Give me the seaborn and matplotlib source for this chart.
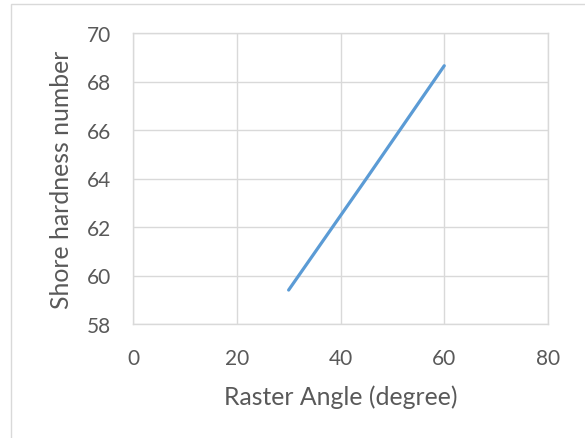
import matplotlib
matplotlib.use('Agg')
import matplotlib.pyplot as plt
import seaborn as sns
import pandas as pd

raster_angle = [30, 45, 60]
shore_hardness = [59.4, 64.0, 68.65]

df = pd.DataFrame({'angle': raster_angle, 'hardness': shore_hardness})

sns.set_style('white')
plt.rcParams['font.family'] = ['Lato', 'DejaVu Sans']

fig = plt.figure(figsize=(5.85, 4.39), dpi=100)
ax = fig.add_axes([133 / 585, 1 - 325 / 439, 415 / 585, 291 / 439])

sns.lineplot(data=df, x='angle', y='hardness', ax=ax, color='#5b9bd5', linewidth=2.3)

ax.set_xlim(0, 80)
ax.set_ylim(58, 70)
ax.set_xticks(range(0, 81, 20))
ax.set_yticks(range(58, 71, 2))
ax.grid(True, color='#d9d9d9', linewidth=1)
for s in ax.spines.values():
    s.set_color('#d9d9d9')
    s.set_linewidth(1)
ax.tick_params(colors='#595959', labelsize=15, length=0)
ax.tick_params(axis='x', pad=17)
ax.tick_params(axis='y', pad=16)
ax.set_xlabel('Raster Angle (degree)', color='#595959', fontsize=17.8, labelpad=12)
ax.set_ylabel('Shore hardness number', color='#595959', fontsize=17.8, labelpad=10)

# outer chart border
fig.add_artist(plt.Rectangle((11 / 585, -0.1), 1, 1 - 5 / 439 + 0.1, transform=fig.transFigure,
                             fill=False, edgecolor='#d9d9d9', linewidth=1))

plt.savefig('out.png', dpi=100)
